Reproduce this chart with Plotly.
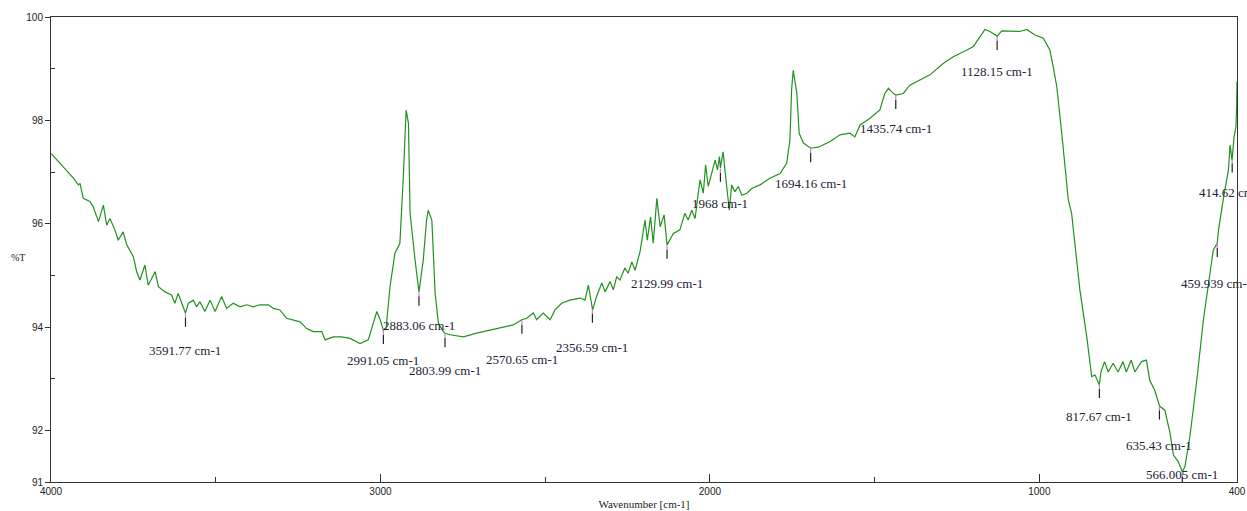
import numpy as np
import plotly.graph_objects as go

# FTIR transmittance spectrum: wavenumber (cm-1) and %T
wavenumber = [
    4000, 3973, 3952, 3932, 3917, 3912, 3902, 3882, 3872, 3856,
    3841, 3831, 3821, 3806, 3796, 3781, 3770, 3750, 3740, 3730,
    3715, 3705, 3684, 3674, 3654, 3634, 3624, 3614, 3592, 3583,
    3568, 3558, 3548, 3533, 3517, 3502, 3482, 3467, 3447, 3426,
    3406, 3386, 3366, 3340, 3325, 3305, 3285, 3264, 3244, 3224,
    3204, 3178, 3168, 3143, 3118, 3092, 3062, 3037, 3022, 3011,
    3001, 2991, 2983, 2971, 2956, 2941, 2931, 2922, 2915, 2910,
    2895, 2883, 2870, 2860, 2855, 2844, 2834, 2824, 2809, 2804,
    2789, 2748, 2708, 2647, 2597, 2571, 2556, 2536, 2526, 2506,
    2485, 2470, 2450, 2425, 2394, 2379, 2369, 2356, 2344, 2328,
    2318, 2303, 2293, 2283, 2273, 2258, 2248, 2237, 2227, 2212,
    2197, 2190, 2180, 2172, 2161, 2151, 2139, 2130, 2111, 2091,
    2076, 2066, 2055, 2045, 2030, 2020, 2013, 2005, 1994, 1984,
    1977, 1971, 1968, 1960, 1949, 1941, 1934, 1924, 1914, 1903,
    1888, 1873, 1848, 1818, 1787, 1767, 1757, 1752, 1747, 1736,
    1729, 1716, 1694, 1671, 1635, 1605, 1575, 1560, 1544, 1514,
    1484, 1469, 1458, 1448, 1436, 1413, 1393, 1362, 1332, 1292,
    1261, 1220, 1200, 1180, 1165, 1150, 1128, 1114, 1089, 1059,
    1038, 1013, 988, 968, 958, 947, 932, 912, 902, 877,
    856, 841, 831, 818, 813, 802, 791, 776, 761, 746,
    736, 721, 710, 690, 675, 665, 650, 635, 619, 603,
    593, 578, 566, 558, 543, 522, 502, 487, 472, 460,
    456, 442, 433, 426, 421, 415, 409, 403, 401, 400,
]
transmittance = [
    97.36, 97.17, 97.04, 96.88, 96.75, 96.78, 96.49, 96.43, 96.33, 96.04,
    96.36, 95.97, 96.10, 95.88, 95.68, 95.84, 95.59, 95.36, 95.07, 94.91,
    95.20, 94.81, 95.07, 94.78, 94.68, 94.62, 94.46, 94.65, 94.27, 94.46,
    94.52, 94.39, 94.49, 94.30, 94.52, 94.30, 94.59, 94.36, 94.46, 94.39,
    94.43, 94.39, 94.43, 94.43, 94.36, 94.33, 94.17, 94.14, 94.10, 93.97,
    93.91, 93.91, 93.75, 93.81, 93.81, 93.78, 93.68, 93.75, 94.07, 94.30,
    94.14, 93.94, 93.97, 94.78, 95.43, 95.62, 96.85, 98.20, 97.94, 96.20,
    95.30, 94.68, 95.30, 96.07, 96.26, 96.07, 94.65, 94.07, 93.91, 93.88,
    93.85, 93.81, 93.88, 93.97, 94.04, 94.14, 94.17, 94.27, 94.14, 94.27,
    94.14, 94.33, 94.46, 94.52, 94.56, 94.52, 94.81, 94.33, 94.59, 94.85,
    94.68, 94.88, 94.72, 94.97, 94.91, 95.14, 95.04, 95.26, 95.10, 95.46,
    96.07, 95.68, 96.13, 95.62, 96.49, 95.94, 96.17, 95.59, 95.81, 95.88,
    96.20, 96.07, 96.26, 96.10, 96.85, 96.59, 97.14, 96.72, 96.97, 97.23,
    97.04, 97.30, 97.08, 97.39, 96.72, 96.26, 96.75, 96.62, 96.72, 96.55,
    96.59, 96.68, 96.75, 96.88, 96.97, 97.17, 97.62, 98.59, 98.97, 98.52,
    97.75, 97.56, 97.46, 97.48, 97.59, 97.72, 97.75, 97.68, 97.91, 98.04,
    98.20, 98.52, 98.62, 98.55, 98.49, 98.52, 98.68, 98.78, 98.88, 99.10,
    99.23, 99.36, 99.43, 99.62, 99.76, 99.72, 99.63, 99.73, 99.72, 99.72,
    99.76, 99.65, 99.59, 99.36, 99.04, 98.65, 97.75, 96.46, 96.20, 94.72,
    93.81, 93.04, 93.07, 92.88, 93.13, 93.33, 93.13, 93.30, 93.13, 93.33,
    93.13, 93.36, 93.13, 93.33, 93.36, 92.97, 92.78, 92.47, 92.39, 91.94,
    91.52, 91.39, 91.20, 91.30, 91.88, 92.97, 94.14, 94.78, 95.49, 95.62,
    95.88, 96.46, 96.78, 97.04, 97.52, 97.23, 97.68, 97.88, 98.30, 98.75,
]

# Picked peaks and their labels
peak_wn = [3591.77, 2991.05, 2883.06, 2803.99, 2570.65, 2356.59, 2129.99, 1968,
           1694.16, 1435.74, 1128.15, 817.67, 635.43, 566.005, 459.939, 414.62]
peak_labels = ["3591.77 cm-1", "2991.05 cm-1", "2883.06 cm-1", "2803.99 cm-1",
               "2570.65 cm-1", "2356.59 cm-1", "2129.99 cm-1", "1968 cm-1",
               "1694.16 cm-1", "1435.74 cm-1", "1128.15 cm-1", "817.67 cm-1",
               "635.43 cm-1", "566.005 cm-1", "459.939 cm-1", "414.62 cm-1"]

y_tick_vals = [100, 98, 96, 94, 92, 91]
y_minor_vals = [99, 97, 95, 93]
x_tick_vals = [4000, 3000, 2000, 1000, 400]
x_minor_vals = [3500, 2500, 1500]

# vertical label offsets (px) below each peak marker
label_drop = [-38, -30, -34, -37, -40, -39, -39, -36,
              -35, -33, -35, -32, -40, -3, -40, -34]

wn_arr = np.array(wavenumber[::-1], dtype=float)
t_arr = np.array(transmittance[::-1], dtype=float)
peak_t = np.interp(peak_wn, wn_arr, t_arr)

fig = go.Figure()

fig.add_trace(go.Scatter(
    x=wavenumber, y=transmittance, mode="lines",
    line=dict(color="#229122", width=1.2),
    hoverinfo="skip", showlegend=False,
))

# peak marker ticks: short pink top + black stem
bx, by, px, py = [], [], [], []
for w, t in zip(peak_wn, peak_t):
    px += [w, w, None]
    py += [t - 0.01, t - 0.09, None]
    bx += [w, w, None]
    by += [t - 0.09, t - 0.27, None]
fig.add_trace(go.Scatter(x=bx, y=by, mode="lines", line=dict(color="#222222", width=1.2),
                         hoverinfo="skip", showlegend=False))
fig.add_trace(go.Scatter(x=px, y=py, mode="lines", line=dict(color="#e070e0", width=1.2),
                         hoverinfo="skip", showlegend=False))

annotations = []
for w, t, lab, dy in zip(peak_wn, peak_t, peak_labels, label_drop):
    annotations.append(dict(
        x=w, y=t, xref="x", yref="y", text=lab, showarrow=False,
        xanchor="center", yanchor="middle", yshift=dy,
        font=dict(family="Liberation Serif", size=13, color="#222233"),
    ))
annotations.append(dict(
    x=-0.028, y=0.482, xref="paper", yref="paper", text="%T", showarrow=False,
    xanchor="center", yanchor="middle",
    font=dict(family="Liberation Serif", size=10, color="#222222"),
))

fig.update_layout(
    width=1247, height=511, autosize=False,
    margin=dict(l=51, r=10, t=17, b=29),
    paper_bgcolor="white", plot_bgcolor="white",
    annotations=annotations,
    showlegend=False,
)

fig.update_xaxes(
    range=[4000, 400], autorange=False, automargin=False,
    tickvals=x_tick_vals, ticktext=[str(v) for v in x_tick_vals],
    ticks="inside", ticklen=8, tickcolor="#333333", tickwidth=1,
    minor=dict(tickvals=x_minor_vals, ticks="inside", ticklen=5, tickcolor="#333333"),
    showline=True, linecolor="#333333", linewidth=1, mirror=True,
    showgrid=False, zeroline=False,
    tickfont=dict(family="Liberation Sans", size=10, color="#222222"),
    title=dict(text="Wavenumber [cm-1]", standoff=4,
               font=dict(family="Liberation Serif", size=11, color="#222222")),
)
fig.update_yaxes(
    range=[91, 100], autorange=False, automargin=False,
    tickvals=y_tick_vals, ticktext=[str(v) for v in y_tick_vals],
    ticks="outside", ticklen=5, tickcolor="#333333", tickwidth=1,
    minor=dict(tickvals=y_minor_vals, ticks="inside", ticklen=4, tickcolor="#333333"),
    showline=True, linecolor="#333333", linewidth=1, mirror=True,
    showgrid=False, zeroline=False,
    tickfont=dict(family="Liberation Sans", size=10, color="#222222"),
)

fig.write_html("out.html")
